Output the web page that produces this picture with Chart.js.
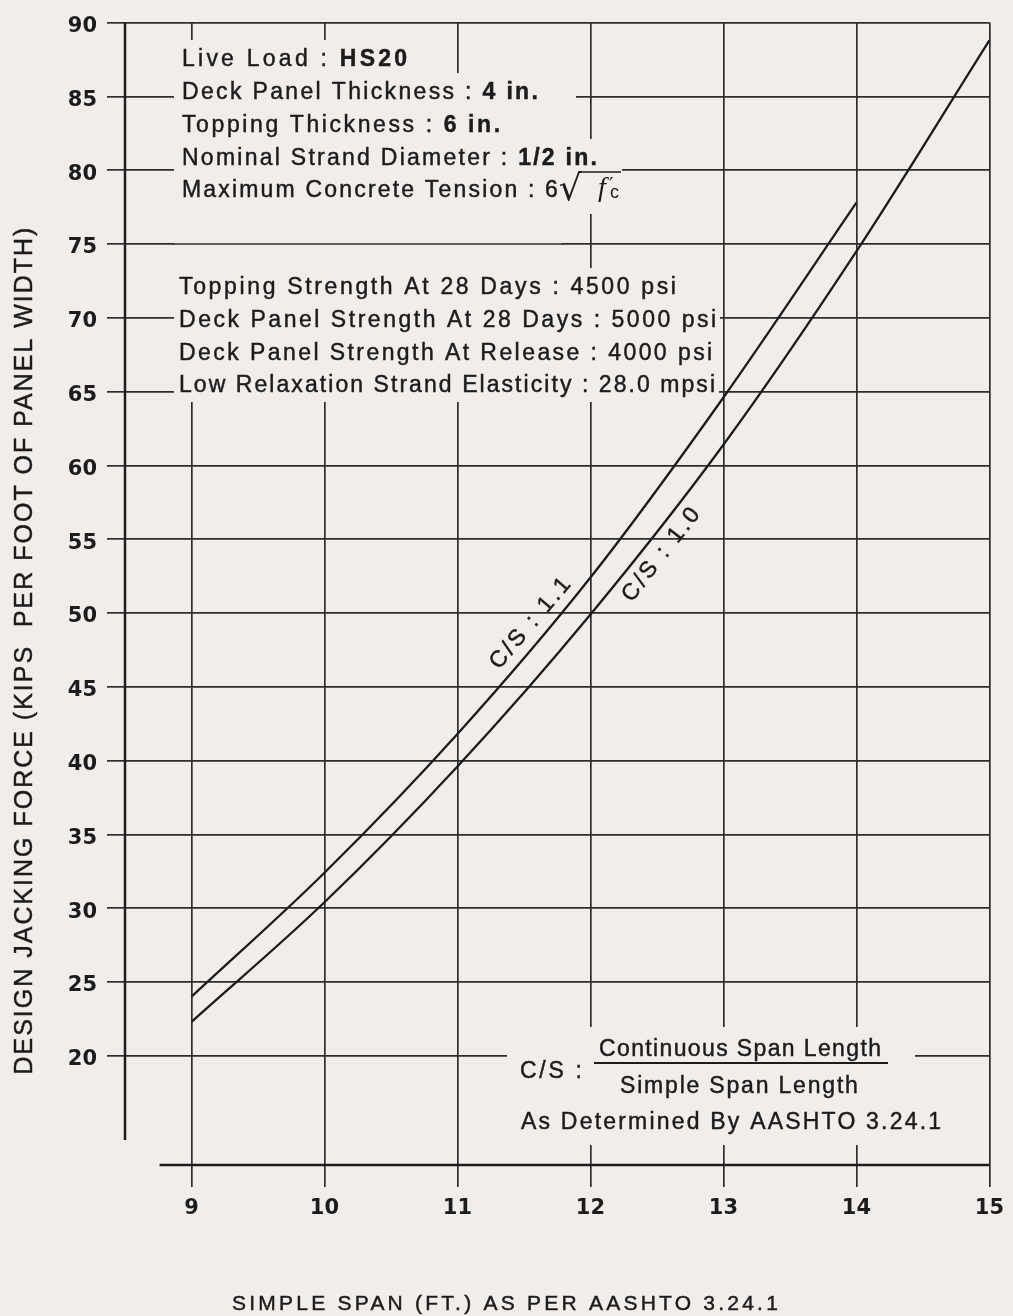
<!DOCTYPE html>
<html>
<head>
<meta charset="utf-8">
<script src="https://cdn.jsdelivr.net/npm/chart.js@4.4.1/dist/chart.umd.min.js"></script>
<style>
  html, body { margin: 0; padding: 0; background: #f1edeb; }
  #wrap { width: 1013px; height: 1316px; position: relative; }
  canvas { display: block; }
</style>
</head>
<body>
<div id="wrap"><canvas id="chart" width="1013" height="1316"></canvas></div>
<script>
// ---------------- DATA ----------------
const spanCS10 = [9, 10, 11, 12, 13, 14, 15];
const jackCS10 = [22.3, 30.4, 39.6, 49.9, 61.4, 74.5, 88.8];
const spanCS11 = [9, 10, 11, 12, 13, 14];
const jackCS11 = [24.0, 32.4, 41.8, 52.4, 64.6, 77.8];
const xTicks = [9, 10, 11, 12, 13, 14, 15];
const yTicks = [20, 25, 30, 35, 40, 45, 50, 55, 60, 65, 70, 75, 80, 85, 90];
const seriesLabels = ['C/S : 1.1', 'C/S : 1.0'];
const xTitle = 'SIMPLE SPAN (FT.) AS PER AASHTO 3.24.1';
const yTitle = 'DESIGN JACKING FORCE (KIPS  PER FOOT OF PANEL WIDTH)';

// ---------------- STYLE ----------------
const PAPER = '#f1edeb';
const INK = '#1c1c1c';
const GRID = '#2e2e2e';
const SANS = "'Liberation Sans', Arial, sans-serif";

function setFont(ctx, size, bold, family, italic) {
  ctx.font = (italic ? 'italic ' : '') + (bold ? 'bold ' : '') + size + 'px ' + (family || SANS);
}

// draw a run of text parts stretched (via letter spacing) to a target width
function drawFitted(ctx, parts, x, baseline, target, size) {
  ctx.letterSpacing = '0px';
  let natural = 0, n = 0;
  parts.forEach(p => { setFont(ctx, size, p.b); natural += ctx.measureText(p.t).width; n += p.t.length; });
  const ls = n > 1 ? (target - natural) / (n - 1) : 0;
  ctx.letterSpacing = ls.toFixed(2) + 'px';
  ctx.textAlign = 'left';
  ctx.textBaseline = 'alphabetic';
  ctx.strokeStyle = ctx.fillStyle;
  ctx.lineWidth = 0.45;
  let cx = x;
  parts.forEach(p => {
    setFont(ctx, size, p.b);
    ctx.fillText(p.t, cx, baseline);
    ctx.strokeText(p.t, cx, baseline);
    cx += ctx.measureText(p.t).width;
  });
  ctx.letterSpacing = '0px';
  return cx - ls;
}

function interp(xs, ys, v) {
  for (let i = 0; i < xs.length - 1; i++) {
    if (v >= xs[i] && v <= xs[i + 1]) {
      const t = (v - xs[i]) / (xs[i + 1] - xs[i]);
      return ys[i] + t * (ys[i + 1] - ys[i]);
    }
  }
  return ys[ys.length - 1];
}

const block1 = [
  { parts: [{ t: 'Live Load : ' }, { t: 'HS20', b: 1 }], base: 66, w: 225, padR: 10 },
  { parts: [{ t: 'Deck Panel Thickness : ' }, { t: '4 in.', b: 1 }], base: 99, w: 356, padR: 38 },
  { parts: [{ t: 'Topping Thickness : ' }, { t: '6 in.', b: 1 }], base: 132, w: 318, padR: 10 },
  { parts: [{ t: 'Nominal Strand Diameter : ' }, { t: '1/2 in.', b: 1 }], base: 165, w: 415, padR: 25 },
  { parts: [{ t: 'Maximum Concrete Tension : 6' }], base: 197, w: 376, padR: 70 }
];
const block2 = [
  { parts: [{ t: 'Topping Strength At 28 Days : 4500 psi' }], base: 294, w: 497 },
  { parts: [{ t: 'Deck Panel Strength At 28 Days : 5000 psi' }], base: 327, w: 537 },
  { parts: [{ t: 'Deck Panel Strength At Release : 4000 psi' }], base: 360, w: 533 },
  { parts: [{ t: 'Low Relaxation Strand Elasticity : 28.0 mpsi' }], base: 392, w: 536 }
];

const annotations = {
  id: 'annotations',
  beforeDraw(chart) {
    const ctx = chart.ctx;
    ctx.save();
    ctx.fillStyle = PAPER;
    ctx.fillRect(0, 0, chart.width, chart.height);
    ctx.restore();
  },
  beforeDatasetsDraw(chart) {
    const ctx = chart.ctx;
    const xs = chart.scales.x, ys = chart.scales.y;
    ctx.save();
    // ---- masks over the grid where text sits ----
    ctx.fillStyle = PAPER;
    const b1x = 182, mL = 174;
    let top = 40;
    block1.forEach((ln, i) => {
      const bottom = i === block1.length - 1 ? 214 : ln.base + 7;
      ctx.fillRect(mL, top, b1x + ln.w + ln.padR - mL, bottom - top);
      top = bottom;
    });
    ctx.fillRect(mL, 214, 562 - mL, 268 - 214);
    const b2x = 179;
    top = 268;
    block2.forEach((ln, i) => {
      const bottom = i === block2.length - 1 ? 402 : ln.base + 7;
      ctx.fillRect(mL, top, b2x + ln.w + 4 - mL, bottom - top);
      top = bottom;
    });
    ctx.fillRect(507, 1027, 915 - 507, 1145 - 1027);
    // restore the 75 grid line across the gap between the two text blocks
    const y75 = ys.getPixelForValue(75);
    ctx.strokeStyle = GRID;
    ctx.lineWidth = 1.7;
    ctx.beginPath();
    ctx.moveTo(mL - 1, y75);
    ctx.lineTo(563, y75);
    ctx.stroke();

    // ---- axis lines ----
    ctx.strokeStyle = INK;
    ctx.lineWidth = 2.5;
    ctx.beginPath();
    ctx.moveTo(xs.left, ys.top);
    ctx.lineTo(xs.left, ys.getPixelForValue(14.3));
    ctx.stroke();
    ctx.beginPath();
    ctx.moveTo(xs.getPixelForValue(8.76), ys.bottom);
    ctx.lineTo(xs.right, ys.bottom);
    ctx.stroke();

    // ---- text blocks ----
    ctx.fillStyle = INK;
    block1.forEach(ln => { ln.end = drawFitted(ctx, ln.parts, b1x, ln.base, ln.w, 23); });
    // radical part of last line: 6 sqrt(f'c)
    const l5 = block1[4];
    const sx = l5.end + 1;
    ctx.letterSpacing = '0px';
    setFont(ctx, 36, false, "'DejaVu Sans', sans-serif");
    ctx.textAlign = 'left';
    ctx.textBaseline = 'alphabetic';
    ctx.fillText('\u221A', sx, l5.base + 3);
    const sw = ctx.measureText('\u221A').width;
    setFont(ctx, 28, false, "'Liberation Serif', serif", true);
    ctx.fillText('f', 598, l5.base - 1);
    setFont(ctx, 20, false, "'DejaVu Sans', sans-serif");
    ctx.fillText('\u2032', 609, l5.base - 6);
    setFont(ctx, 18, false, SANS);
    ctx.fillText('c', 610, l5.base + 1);
    ctx.strokeStyle = INK;
    ctx.lineWidth = 1.6;
    ctx.beginPath();
    ctx.moveTo(sx + sw - 2.5, l5.base - 25);
    ctx.lineTo(621, l5.base - 25);
    ctx.stroke();

    block2.forEach(ln => drawFitted(ctx, ln.parts, b2x, ln.base, ln.w, 23));

    // ---- C/S definition ----
    drawFitted(ctx, [{ t: 'C/S :' }], 520, 1077.5, 62, 23);
    drawFitted(ctx, [{ t: 'Continuous Span Length' }], 740 - 141, 1056, 282, 23);
    drawFitted(ctx, [{ t: 'Simple Span Length' }], 739 - 119, 1092.5, 238, 23);
    drawFitted(ctx, [{ t: 'As Determined By AASHTO 3.24.1' }], 521, 1128.5, 420, 23);
    ctx.strokeStyle = INK;
    ctx.lineWidth = 2;
    ctx.beginPath();
    ctx.moveTo(594, 1063);
    ctx.lineTo(888, 1063);
    ctx.stroke();

    // ---- axis titles ----
    drawFitted(ctx, [{ t: xTitle }], 232, 1310, 546, 21);
    ctx.save();
    ctx.translate(31.5, 651 + 847 / 2);
    ctx.rotate(-Math.PI / 2);
    drawFitted(ctx, [{ t: yTitle }], 0, 0, 847, 25);
    ctx.restore();

    // ---- curve labels ----
    const curveLabel = (txt, xsArr, ysArr, at, off, side) => {
      const px = xs.getPixelForValue(at), py = ys.getPixelForValue(interp(xsArr, ysArr, at));
      const ax = xs.getPixelForValue(at - 0.3), ay = ys.getPixelForValue(interp(xsArr, ysArr, at - 0.3));
      const bx = xs.getPixelForValue(at + 0.3), by = ys.getPixelForValue(interp(xsArr, ysArr, at + 0.3));
      let dx = bx - ax, dy = by - ay;
      const L = Math.hypot(dx, dy); dx /= L; dy /= L;
      const nx = dy * side, ny = -dx * side;
      ctx.save();
      ctx.translate(px + nx * off, py + ny * off);
      ctx.rotate(Math.atan2(dy, dx));
      ctx.textBaseline = 'middle';
      setFont(ctx, 23, false);
      ctx.letterSpacing = '0px';
      const nat = ctx.measureText(txt).width;
      const ls = (112 - nat) / (txt.length - 1);
      ctx.letterSpacing = ls.toFixed(2) + 'px';
      ctx.textAlign = 'left';
      ctx.strokeStyle = INK;
      ctx.lineWidth = 0.45;
      ctx.fillText(txt, -56, 0);
      ctx.strokeText(txt, -56, 0);
      ctx.restore();
    };
    curveLabel(seriesLabels[0], spanCS11, jackCS11, 11.64, 16, 1);
    curveLabel(seriesLabels[1], spanCS10, jackCS10, 12.42, 19, -1);
    ctx.restore();
  }
};

const tickFont = { family: "'DejaVu Sans', sans-serif", weight: 'bold', size: 21 };

new Chart(document.getElementById('chart'), {
  type: 'line',
  data: {
    datasets: [
      {
        label: seriesLabels[0],
        data: spanCS11.map((x, i) => ({ x: x, y: jackCS11[i] })),
        borderColor: INK, borderWidth: 2.3, pointRadius: 0, fill: false,
        cubicInterpolationMode: 'monotone'
      },
      {
        label: seriesLabels[1],
        data: spanCS10.map((x, i) => ({ x: x, y: jackCS10[i] })),
        borderColor: INK, borderWidth: 2.3, pointRadius: 0, fill: false,
        cubicInterpolationMode: 'monotone'
      }
    ]
  },
  options: {
    responsive: false,
    animation: false,
    devicePixelRatio: 1,
    layout: { padding: { top: 15, right: 17, left: 0, bottom: 0 } },
    plugins: { legend: { display: false }, tooltip: { enabled: false } },
    scales: {
      x: {
        type: 'linear', min: 8.5, max: 15,
        afterBuildTicks: s => { s.ticks = xTicks.map(v => ({ value: v })); },
        afterFit: s => { s.height = 151; },
        grid: { color: GRID, lineWidth: 1.7, tickLength: 22, drawTicks: true },
        border: { display: false },
        ticks: { font: tickFont, color: INK, padding: 9, maxRotation: 0, autoSkip: false }
      },
      y: {
        type: 'linear', min: 12.6, max: 90,
        afterBuildTicks: s => { s.ticks = yTicks.map(v => ({ value: v })); },
        afterFit: s => { s.width = 125; },
        grid: { color: GRID, lineWidth: 1.7, tickLength: 18, drawTicks: true },
        border: { display: false },
        ticks: { font: tickFont, color: INK, padding: 10, labelOffset: 4, autoSkip: false }
      }
    }
  },
  plugins: [annotations]
});
</script>
</body>
</html>
